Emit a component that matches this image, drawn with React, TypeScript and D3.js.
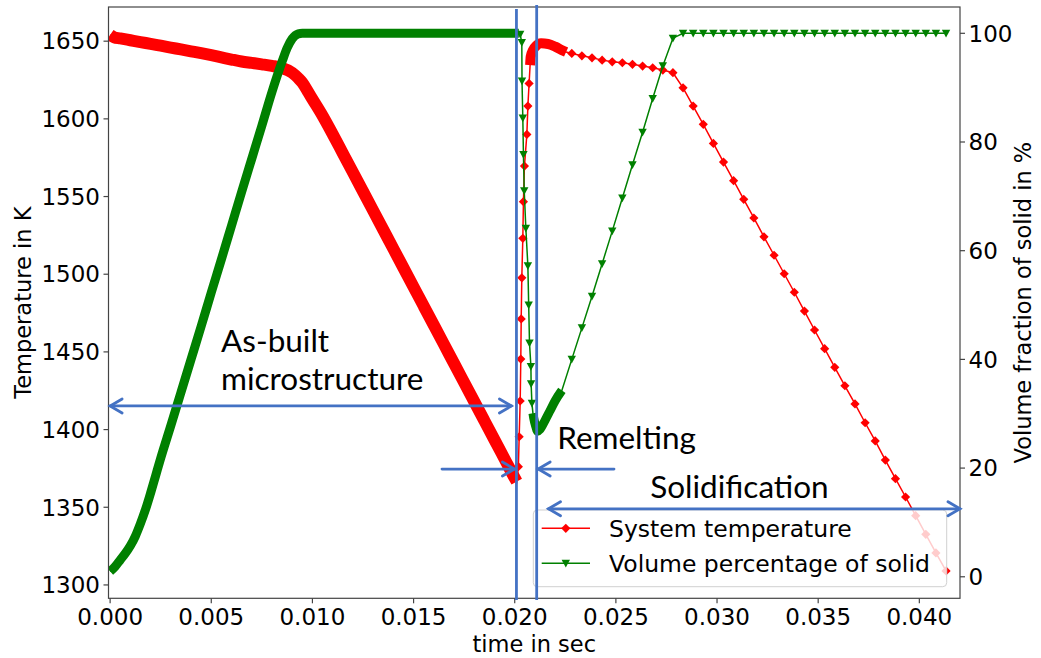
import React from 'react';
import * as d3 from 'd3';

type P = [number, number];

// ---- Temperature (K) vs time (s) ----
const tempAsBuilt: P[] = [
  [0, 1654], [0.0002, 1652.5], [0.0005, 1651.8], [0.001, 1650.6], [0.0015, 1649.4], [0.002, 1648.3],
  [0.0025, 1647.1], [0.003, 1645.9], [0.0035, 1644.7], [0.004, 1643.5], [0.0045, 1642.3], [0.005, 1641.0],
  [0.0055, 1639.6], [0.006, 1638.2], [0.0065, 1636.9], [0.007, 1636.0], [0.0075, 1635.1], [0.008, 1634.1],
  [0.0085, 1632.7], [0.009, 1629.7], [0.0093, 1626.2], [0.0095, 1623.3], [0.0098, 1617.0], [0.01, 1612.7],
  [0.0105, 1602.0], [0.011, 1590.2], [0.0115, 1577.9], [0.012, 1565.6], [0.0125, 1553.3], [0.013, 1541.0],
  [0.0135, 1528.7], [0.014, 1516.4], [0.0145, 1504.1], [0.015, 1491.8], [0.0155, 1479.5], [0.016, 1467.2],
  [0.0165, 1454.9], [0.017, 1442.6], [0.0175, 1430.3], [0.018, 1418.0], [0.0185, 1405.7], [0.019, 1393.4],
  [0.0195, 1381.1], [0.02, 1368.8], [0.0201, 1366.5],
];
const tempRemelt: P[] = [
  [0.0201, 1366.5], [0.02018, 1376.1], [0.02022, 1395.4], [0.02027, 1418.4], [0.0203, 1445.4], [0.02032, 1471.2],
  [0.02035, 1497.7], [0.0204, 1523.1], [0.02043, 1546.7], [0.02048, 1569.6], [0.0206, 1590.0],
  [0.02065, 1608.2], [0.02071, 1622.8], [0.02076, 1634.6],
];
const tempPeak: P[] = [
  [0.02076, 1634.6], [0.02079, 1640], [0.02091, 1644.5], [0.02106, 1647], [0.0213, 1648.6], [0.02165, 1648.2],
  [0.022, 1646.5], [0.02234, 1644.2], [0.02254, 1643],
];
const tempSolidify: P[] = [
  [0.02282, 1642.1], [0.02332, 1640.6], [0.02382, 1639.3], [0.02432, 1637.8], [0.02482, 1636.7], [0.02532, 1636.1],
  [0.02582, 1635.1], [0.02632, 1634.0], [0.02682, 1632.9], [0.02732, 1631.4], [0.02782, 1629.7], [0.02832, 1620.0],
  [0.02882, 1608.2], [0.02932, 1596.5], [0.02982, 1584.2], [0.03032, 1572.2], [0.03082, 1560.2], [0.03132, 1548.2],
  [0.03182, 1536.2], [0.03232, 1524.1], [0.03282, 1512.2], [0.03332, 1500.3], [0.03382, 1488.4], [0.03432, 1476.3],
  [0.03482, 1464.1], [0.03532, 1452.1], [0.03582, 1440.1], [0.03632, 1428.2], [0.03682, 1416.5], [0.03732, 1404.4],
  [0.03782, 1392.7], [0.03832, 1380.4], [0.03882, 1368.4], [0.03932, 1356.6], [0.03982, 1344.6], [0.04032, 1332.6],
  [0.04082, 1320.6], [0.04132, 1309.0],
];

// ---- Volume percentage of solid (%) vs time (s) ----
const solidAsBuilt: P[] = [
  [0, 1.0], [0.00025, 1.9], [0.0005, 3.1], [0.00075, 4.3], [0.001, 5.7], [0.00125, 7.5], [0.0015, 9.8],
  [0.00175, 12.4], [0.002, 15.4], [0.00225, 18.6], [0.0025, 21.8], [0.003, 27.8],
  [0.0035, 33.9], [0.004, 40.0], [0.0045, 46.1], [0.005, 52.3], [0.0055, 58.4], [0.006, 64.6], [0.0065, 70.8],
  [0.007, 76.9], [0.0075, 83.0], [0.008, 89.2], [0.0085, 94.8], [0.00875, 97.3], [0.009, 99.0], [0.0093, 99.9],
  [0.0095, 100], [0.0202, 100],
];
const solidRemelt: P[] = [
  [0.0202, 100], [0.02027, 99.8], [0.02035, 98.3], [0.02036, 91.2], [0.0204, 84.4], [0.02043, 77.7], [0.02047, 71.0],
  [0.02055, 64.1], [0.02065, 57.2], [0.02069, 50.0], [0.02073, 43.0], [0.0208, 38.7], [0.02081, 35.5],
  [0.02085, 31.9], [0.0209, 30.1],
];
const solidValley: P[] = [
  [0.0209, 30.1], [0.02094, 29.2], [0.02103, 27.8], [0.02113, 26.8], [0.02126, 27.2], [0.0215, 28.8],
  [0.02175, 30.6], [0.022, 32.4], [0.02233, 34.3],
];
const solidGrowth: P[] = [
  [0.02282, 40.0], [0.02332, 45.8], [0.02382, 51.6], [0.02432, 57.6], [0.02482, 63.6], [0.02532, 69.7],
  [0.02582, 75.8], [0.02632, 81.8], [0.02682, 88.0], [0.02732, 94.0], [0.02782, 99.1], [0.02832, 100],
  [0.02882, 100], [0.02932, 100], [0.02982, 100], [0.03032, 100], [0.03082, 100], [0.03132, 100],
  [0.03182, 100], [0.03232, 100], [0.03282, 100], [0.03332, 100], [0.03382, 100], [0.03432, 100],
  [0.03482, 100], [0.03532, 100], [0.03582, 100], [0.03632, 100], [0.03682, 100], [0.03732, 100],
  [0.03782, 100], [0.03832, 100], [0.03882, 100], [0.03932, 100], [0.03982, 100], [0.04032, 100],
  [0.04082, 100], [0.04132, 100],
];

const timeTicks = [0, 0.005, 0.01, 0.015, 0.02, 0.025, 0.03, 0.035, 0.04];
const tempTicks = [1300, 1350, 1400, 1450, 1500, 1550, 1600, 1650];
const solidTicks = [0, 20, 40, 60, 80, 100];

const seriesNames = ['System temperature', 'Volume percentage of solid'];
const axisTitles = { x: 'time in sec', yLeft: 'Temperature in K', yRight: 'Volume fraction of solid in %' };

// annotation anchors (data units: time, temperature)
const phaseLines = [0.020085, 0.021085];
const annot = {
  asBuiltY: 1415.2,
  remeltY: 1374.6,
  solidY: 1349.0,
};

const RED = '#ff0000';
const GREEN = '#008000';
const BLUE = '#4472C4';
const MPL = "'DejaVu Sans', sans-serif";
const PPT = "Lato, 'Open Sans', sans-serif";

const diamond = (r: number) => `M0,${-r}L${r},0L0,${r}L${-r},0Z`;
const triDown = (a: number) => `M${-a},${-a * 0.85}L${a},${-a * 0.85}L0,${a * 1.0}Z`;

export default function App() {
  const left = 108.5, right = 960, top = 7, bottom = 598.3;
  const x = d3.scaleLinear().domain([-0.00008, 0.04201]).range([left, right]);
  const yT = d3.scaleLinear().domain([1291.4, 1672]).range([bottom, top]);
  const yV = d3.scaleLinear().domain([-3.96, 104.84]).range([bottom, top]);
  const lineT = d3.line<P>().x(d => x(d[0])).y(d => yT(d[1]));
  const lineV = d3.line<P>().x(d => x(d[0])).y(d => yV(d[1]));
  const bandT = d3.line<P>().x(d => x(d[0])).y(d => yT(d[1])).curve(d3.curveMonotoneX);
  const bandV = d3.line<P>().x(d => x(d[0])).y(d => yV(d[1])).curve(d3.curveMonotoneX);

  const tempAll = [...tempAsBuilt, ...tempRemelt.slice(1), ...tempPeak.slice(1), ...tempSolidify];
  const solidAll = [...solidAsBuilt, ...solidRemelt.slice(1), ...solidValley.slice(1), ...solidGrowth];

  const arrowHead = (tx: number, ty: number, dir: number) =>
    `M${tx - dir * 12},${ty - 7}L${tx},${ty}L${tx - dir * 12},${ty + 7}`;

  const asY = yT(annot.asBuiltY);
  const reY = yT(annot.remeltY);
  const soY = yT(annot.solidY);
  const v1 = x(phaseLines[0]);
  const v2 = x(phaseLines[1]);

  const legX = 533.3, legY = 510, legW = 413.4, legH = 76.7;

  return (
    <svg width={1041} height={658} style={{ position: 'absolute', left: 0, top: 0, background: '#fff' }}
      fontFamily={MPL}>
      <defs>
        <clipPath id="plot"><rect x={left} y={top} width={right - left} height={bottom - top} /></clipPath>
      </defs>
      <rect x={0} y={0} width={1041} height={658} fill="#fff" />

      <g clipPath="url(#plot)">
        {/* temperature */}
        <path d={lineT(tempAll) || ''} fill="none" stroke={RED} strokeWidth={1.5} />
        <path d={bandT(tempAsBuilt) || ''} fill="none" stroke={RED} strokeWidth={12} strokeLinejoin="round" />
        <path d={bandT(tempPeak) || ''} fill="none" stroke={RED} strokeWidth={10} strokeLinejoin="round" />
        {[...tempRemelt.slice(1, -1), ...tempSolidify].map((d, i) => (
          <path key={'t' + i} d={diamond(4.6)} transform={`translate(${x(d[0])},${yT(d[1])})`} fill={RED} />
        ))}
        {/* solid fraction */}
        <path d={lineV(solidAll) || ''} fill="none" stroke={GREEN} strokeWidth={1.5} />
        <path d={bandV(solidAsBuilt) || ''} fill="none" stroke={GREEN} strokeWidth={9} strokeLinejoin="round" />
        <path d={bandV(solidValley) || ''} fill="none" stroke={GREEN} strokeWidth={9} strokeLinejoin="round" />
        {[...solidRemelt.slice(1, -1), ...solidGrowth].map((d, i) => (
          <path key={'s' + i} d={triDown(4.2)} transform={`translate(${x(d[0])},${yV(d[1])})`} fill={GREEN} />
        ))}
      </g>

      {/* frame */}
      <rect x={left} y={top} width={right - left} height={bottom - top} fill="none" stroke="#444" strokeWidth={1.2} />

      {/* left axis */}
      {tempTicks.map(t => (
        <g key={'yl' + t}>
          <line x1={left - 5} x2={left} y1={yT(t)} y2={yT(t)} stroke="#444" strokeWidth={1.2} />
          <text x={left - 8.5} y={yT(t)} dy="0.36em" textAnchor="end" fontSize={23} fill="#000" fontFamily={MPL}>{t}</text>
        </g>
      ))}
      {/* bottom axis */}
      {timeTicks.map(t => (
        <g key={'x' + t}>
          <line x1={x(t)} x2={x(t)} y1={bottom} y2={bottom + 5} stroke="#444" strokeWidth={1.2} />
          <text x={x(t)} y={624.5} textAnchor="middle" fontSize={23} fill="#000" fontFamily={MPL}>{d3.format('.3f')(t)}</text>
        </g>
      ))}
      {/* right axis */}
      {solidTicks.map(t => (
        <g key={'yr' + t}>
          <line x1={right} x2={right + 5} y1={yV(t)} y2={yV(t)} stroke="#444" strokeWidth={1.2} />
          <text x={right + 8.5} y={yV(t)} dy="0.36em" textAnchor="start" fontSize={23} fill="#000" fontFamily={MPL}>{t}</text>
        </g>
      ))}

      {/* axis titles */}
      <text x={(left + right) / 2} y={652} textAnchor="middle" fontSize={22.5} fontFamily={MPL}>{axisTitles.x}</text>
      <text transform={`translate(30.5,${(top + bottom) / 2}) rotate(-90)`} textAnchor="middle" fontSize={22.5} fontFamily={MPL}>{axisTitles.yLeft}</text>
      <text transform={`translate(1030.5,${(top + bottom) / 2}) rotate(-90)`} textAnchor="middle" fontSize={22.5} fontFamily={MPL}>{axisTitles.yRight}</text>

      {/* legend */}
      <rect x={legX} y={legY} width={legW} height={legH} rx={4} fill="#fff" fillOpacity={0.8} stroke="#d0d0d0" strokeWidth={1} />
      <line x1={541.7} x2={590} y1={528.3} y2={528.3} stroke={RED} strokeWidth={1.5} />
      <path d={diamond(4.6)} transform="translate(565.8,528.3)" fill={RED} />
      <text x={609} y={536.7} fontSize={23.5} fontFamily={MPL}>{seriesNames[0]}</text>
      <line x1={541.7} x2={590} y1={563.3} y2={563.3} stroke={GREEN} strokeWidth={1.5} />
      <path d={triDown(4.2)} transform="translate(565.8,563.3)" fill={GREEN} />
      <text x={609} y={571.7} fontSize={23.5} fontFamily={MPL}>{seriesNames[1]}</text>

      {/* annotations */}
      <g stroke={BLUE} strokeWidth={2.8} fill="none" strokeLinecap="round">
        <line x1={v1} x2={v1} y1={9} y2={600} strokeLinecap="butt" />
        <line x1={v2} x2={v2} y1={5} y2={600} strokeLinecap="butt" />
        <line x1={x(0)} x2={v1 - 5} y1={asY} y2={asY} />
        <path d={arrowHead(x(0), asY, -1)} />
        <path d={arrowHead(v1 - 5, asY, 1)} />
        <line x1={442} x2={v1 - 2} y1={reY} y2={reY} />
        <path d={arrowHead(v1 - 2, reY, 1)} />
        <line x1={614} x2={v2 + 1.5} y1={reY} y2={reY} />
        <path d={arrowHead(v2 + 1.5, reY, -1)} />
        <line x1={548.5} x2={right} y1={soY} y2={soY} />
        <path d={arrowHead(548.5, soY, -1)} />
        <path d={arrowHead(right, soY, 1)} />
      </g>
      <g fontFamily={PPT} fontSize={31.5} fill="#000">
        <text x={x(0.00548)} y={yT(1450)}>As-built</text>
        <text x={x(0.00548)} y={yT(1425.5)}>microstructure</text>
        <text x={x(0.0221)} y={yT(1387.5)}>Remelting</text>
        <text x={x(0.0267)} y={yT(1356)}>Solidification</text>
      </g>
    </svg>
  );
}
